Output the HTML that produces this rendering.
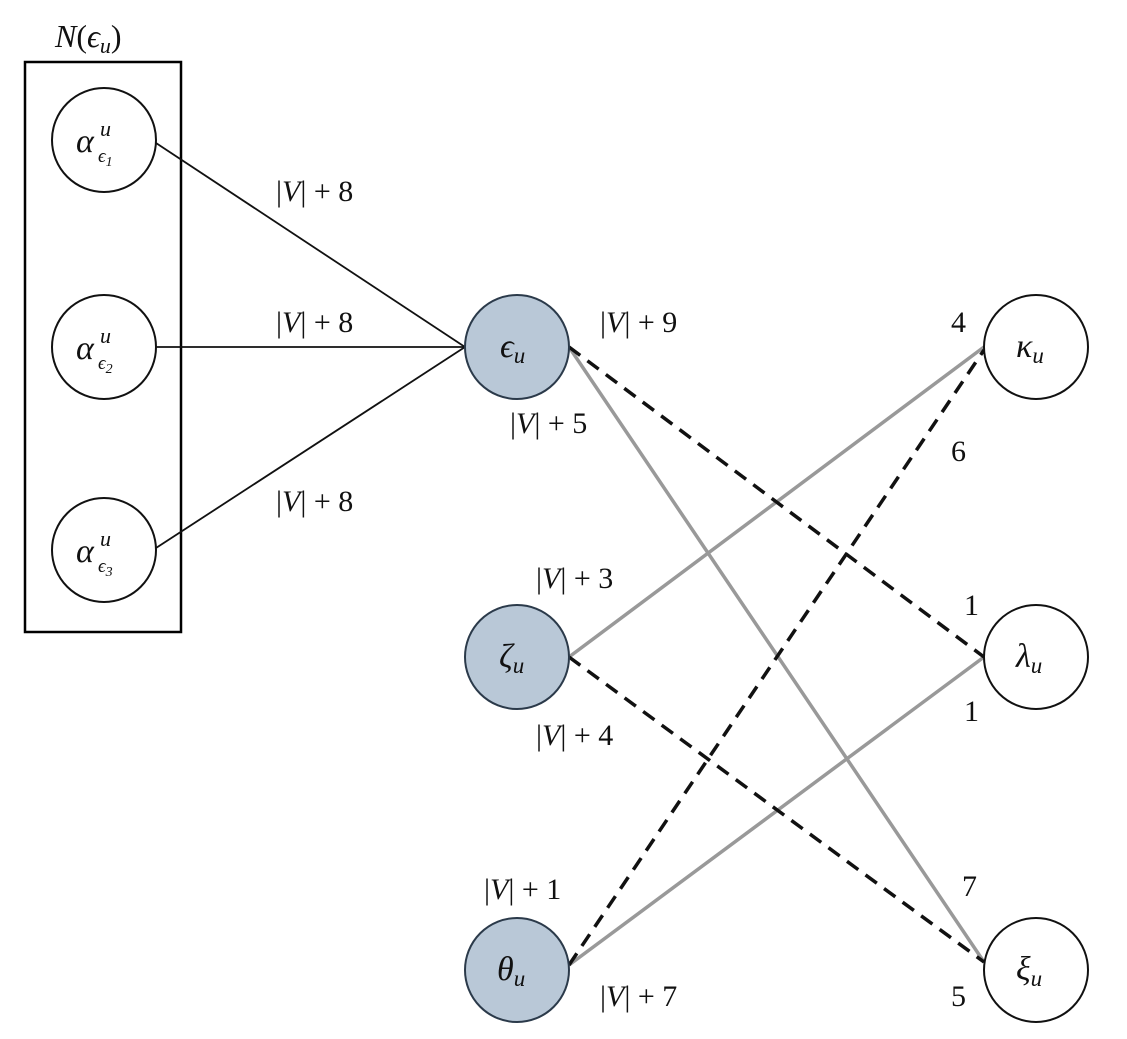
<!DOCTYPE html>
<html><head><style>body{margin:0;background:#fff}svg{display:block}
text{font-family:"Liberation Serif",serif;fill:#111}
.i{font-style:italic}</style></head><body>
<svg width="1127" height="1039" viewBox="0 0 1127 1039">
<rect x="25" y="62" width="156" height="570" fill="none" stroke="#000" stroke-width="2.5"/>
<text x="55" y="47" style="font-size:32px"><tspan class="i">N</tspan>(<tspan class="i">ϵ</tspan><tspan class="i" style="font-size:22px" dy="6">u</tspan><tspan dy="-6">)</tspan></text>
<g stroke="#111" stroke-width="1.8">
<line x1="156" y1="143" x2="465" y2="347"/><line x1="156" y1="347" x2="465" y2="347"/><line x1="156" y1="548" x2="465" y2="347"/></g>
<g stroke="#999" stroke-width="3.5">
<line x1="569" y1="347" x2="984" y2="962"/><line x1="569" y1="657" x2="984" y2="347"/><line x1="569" y1="965" x2="984" y2="657"/></g>
<g stroke="#111" stroke-width="3.5" stroke-dasharray="14,9">
<line x1="569" y1="347" x2="984" y2="657"/><line x1="569" y1="657" x2="984" y2="962"/><line x1="569" y1="965" x2="984" y2="350"/></g>
<g fill="#fff" stroke="#111" stroke-width="2">
<circle cx="104" cy="140" r="52"/><circle cx="104" cy="347" r="52"/><circle cx="104" cy="550" r="52"/>
<circle cx="1036" cy="347" r="52"/><circle cx="1036" cy="657" r="52"/><circle cx="1036" cy="970" r="52"/></g>
<g fill="#b9c8d7" stroke="#2b3a4a" stroke-width="2">
<circle cx="517" cy="347" r="52"/><circle cx="517" cy="657" r="52"/><circle cx="517" cy="970" r="52"/></g>
<g class="i" style="font-size:34px">
<text x="76" y="152">α</text><text x="100" y="136" style="font-size:22px">u</text><text x="98" y="162" style="font-size:19px">ϵ<tspan style="font-size:14px" dy="4">1</tspan></text>
<text x="76" y="359">α</text><text x="100" y="343" style="font-size:22px">u</text><text x="98" y="369" style="font-size:19px">ϵ<tspan style="font-size:14px" dy="4">2</tspan></text>
<text x="76" y="562">α</text><text x="100" y="546" style="font-size:22px">u</text><text x="98" y="572" style="font-size:19px">ϵ<tspan style="font-size:14px" dy="4">3</tspan></text>
<text x="500" y="357">ϵ<tspan style="font-size:23px" dy="6">u</tspan></text>
<text x="499" y="667">ζ<tspan style="font-size:23px" dy="6">u</tspan></text>
<text x="497" y="980">θ<tspan style="font-size:23px" dy="6">u</tspan></text>
<text x="1016" y="357">κ<tspan style="font-size:23px" dy="6">u</tspan></text>
<text x="1016" y="667">λ<tspan style="font-size:23px" dy="6">u</tspan></text>
<text x="1016" y="980">ξ<tspan style="font-size:23px" dy="6">u</tspan></text>
</g>
<g style="font-size:30px">
<text x="276" y="201">|<tspan class="i">V</tspan>| + 8</text>
<text x="276" y="332">|<tspan class="i">V</tspan>| + 8</text>
<text x="276" y="511">|<tspan class="i">V</tspan>| + 8</text>
<text x="600" y="332">|<tspan class="i">V</tspan>| + 9</text>
<text x="510" y="433">|<tspan class="i">V</tspan>| + 5</text>
<text x="536" y="588">|<tspan class="i">V</tspan>| + 3</text>
<text x="536" y="745">|<tspan class="i">V</tspan>| + 4</text>
<text x="484" y="899">|<tspan class="i">V</tspan>| + 1</text>
<text x="600" y="1006">|<tspan class="i">V</tspan>| + 7</text>
<text x="951" y="332">4</text><text x="951" y="461">6</text>
<text x="964" y="615">1</text><text x="964" y="721">1</text>
<text x="962" y="896">7</text><text x="951" y="1006">5</text>
</g>
</svg></body></html>
